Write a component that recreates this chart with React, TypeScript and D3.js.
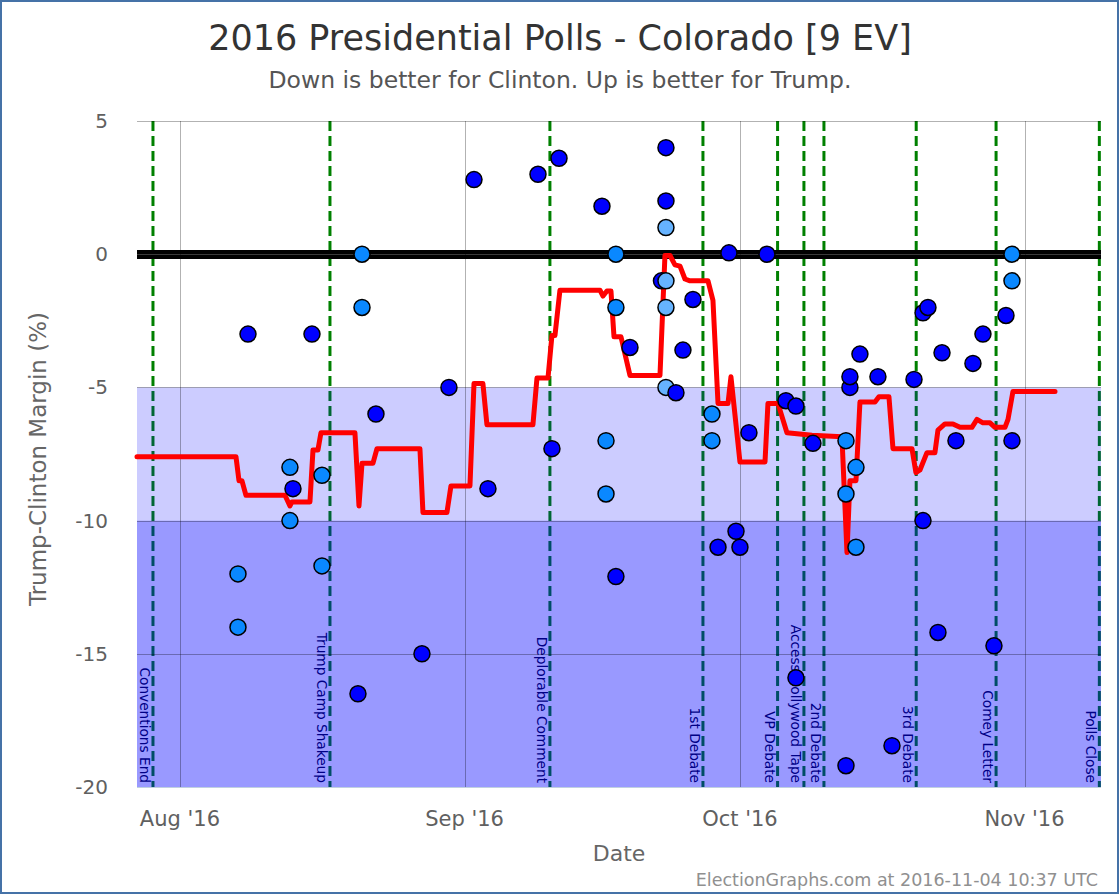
import React from 'react';
import * as d3 from 'd3';

const W = 1120;
const H = 896;
const BASE = Date.UTC(2016, 7, 1); // 2016-08-01 UTC
const DAY_MS = 864e5;
const toDate = (d: number) => new Date(BASE + d * DAY_MS);

// x extent of the plot, in days after 2016-08-01
const X_DOMAIN_DAYS = [-4.68, 100.33];
const Y_DOMAIN = [-20, 5];
const Y_TICKS = [5, 0, -5, -10, -15, -20];
const X_TICK_DAYS = [0, 31, 61, 92];
const X_TICK_LABELS = ["Aug '16", "Sep '16", "Oct '16", "Nov '16"];

// shaded margin bands (Clinton lead)
const BAND_FROM = [-5, -10];
const BAND_TO = [-10, -20];

const EVENT_NAMES = [
  'Conventions End', 'Trump Camp Shakeup', 'Deplorable Comment', '1st Debate', 'VP Debate',
  'Access Hollywood Tape', '2nd Debate', '3rd Debate', 'Comey Letter', 'Polls Close',
];
const EVENT_DAYS = [-2.94, 16.34, 40.3, 56.97, 65.1, 67.97, 70.15, 80.2, 88.9, 100.15];

// individual polls
const POLL_DAYS = [
  7.41, 6.32, 6.32, 11.98, 12.31, 11.98, 14.38, 15.47, 15.47, 19.83,
  19.83, 19.39, 21.35, 26.36, 29.3, 32.03, 33.55, 39.0, 40.52, 41.29,
  45.97, 46.41, 46.41, 47.49, 47.49, 47.49, 49.02, 52.94, 52.94, 52.94,
  52.45, 52.94, 52.94, 52.94, 54.03, 55.88, 54.79, 57.95, 57.95, 58.61,
  59.8, 60.57, 61.0, 61.98, 63.94, 66.01, 67.1, 67.1, 68.95, 72.55,
  72.55, 72.98, 72.98, 73.64, 73.64, 74.07, 72.55, 76.03, 77.56, 79.96,
  80.94, 81.48, 80.94, 83.01, 82.57, 84.53, 86.38, 87.47, 88.67, 89.98,
  90.63, 90.63, 90.63,
];
const POLL_MARGINS = [
  -3.0, -12.0, -14.0, -8.0, -8.8, -10.0, -3.0, -8.3, -11.7, 0,
  -2.0, -16.5, -6.0, -15.0, -5.0, 2.8, -8.8, 3.0, -7.3, 3.6,
  1.8, -7.0, -9.0, 0, -2.0, -12.1, -3.5, 4.0, 2.0, 1.0,
  -1.0, -1.0, -2.0, -5.0, -5.2, -1.7, -3.6, -6.0, -7.0, -11.0,
  0.05, -10.4, -11.0, -6.7, 0, -5.5, -5.7, -15.9, -7.1, -7.0,
  -9.0, -5.0, -4.6, -8.0, -11.0, -3.75, -19.2, -4.6, -18.45, -4.7,
  -2.2, -2.0, -10.0, -3.7, -14.2, -7.0, -4.1, -3.0, -14.7, -2.3,
  0, -1.0, -7.0,
];
// 0 = dark blue, 1 = medium blue, 2 = light blue
const POLL_KINDS = [
  0, 1, 1, 1, 0, 1, 0, 1, 1, 1,
  1, 0, 0, 0, 0, 0, 0, 0, 0, 0,
  0, 1, 1, 1, 1, 0, 0, 0, 0, 2,
  0, 2, 2, 2, 0, 0, 0, 1, 1, 0,
  0, 0, 0, 0, 0, 0, 0, 0, 0, 1,
  1, 0, 0, 1, 1, 0, 0, 0, 0, 0,
  0, 0, 0, 0, 0, 0, 0, 0, 0, 0,
  1, 1, 0,
];

// running average
const AVG_DAYS = [
  -4.68, 6.10, 6.43, 6.75, 7.19, 11.44, 11.98, 12.2, 14.16, 14.49,
  15.03, 15.36, 19.06, 19.5, 19.83, 21.02, 21.46, 26.14, 26.47, 29.08,
  29.52, 31.59, 32.03, 33.0, 33.44, 38.45, 38.89, 40.09, 40.52, 40.85,
  41.39, 45.75, 46.08, 46.51, 46.95, 47.28, 48.04, 49.02, 52.29, 52.83,
  53.38, 53.92, 54.47, 55.01, 55.56, 57.52, 58.06, 58.61, 59.7, 60.02,
  61.0, 63.73, 64.05, 65.14, 66.12, 68.85, 72.11, 72.66, 72.98, 73.64,
  74.07, 75.71, 76.14, 77.23, 77.67, 79.74, 80.17, 80.61, 81.37, 82.24,
  82.57, 83.33, 84.2, 84.97, 86.27, 86.82, 87.47, 88.24, 88.78, 89.87,
  90.2, 90.74, 91.5, 95.32,
];
const AVG_MARGINS = [
  -7.6, -7.6, -8.5, -8.5, -9.05, -9.05, -9.45, -9.3, -9.3, -7.35,
  -7.35, -6.7, -6.7, -9.45, -7.85, -7.85, -7.3, -7.3, -9.7, -9.7,
  -8.7, -8.7, -4.85, -4.85, -6.4, -6.4, -4.65, -4.65, -3.05, -3.05,
  -1.35, -1.35, -1.57, -1.38, -1.38, -3.1, -3.1, -4.55, -4.55, -0.05,
  -0.05, -0.4, -0.45, -0.93, -1.0, -1.0, -1.73, -5.6, -5.6, -4.6,
  -7.8, -7.8, -5.6, -5.6, -6.7, -6.8, -6.85, -11.2, -8.5, -8.5,
  -5.55, -5.55, -5.35, -5.35, -7.3, -7.3, -8.2, -8.1, -7.45, -7.45,
  -6.6, -6.37, -6.37, -6.5, -6.5, -6.2, -6.33, -6.33, -6.5, -6.5,
  -6.2, -5.15, -5.15, -5.15,
];

const TITLE = '2016 Presidential Polls - Colorado [9 EV]';
const SUBTITLE = 'Down is better for Clinton. Up is better for Trump.';
const Y_TITLE = 'Trump-Clinton Margin (%)';
const X_TITLE = 'Date';
const FOOTER = 'ElectionGraphs.com at 2016-11-04 10:37 UTC';

const PLOT = { left: 137, right: 1101, top: 121, bottom: 787 };
const FONT = "'DejaVu Sans', sans-serif";
const KIND_COLORS = ['#0000ff', '#0a88ff', '#66b3ff'];
const BAND_OPACITY = [0.2, 0.4];

export default function App() {
  const x = d3.scaleUtc()
    .domain([toDate(X_DOMAIN_DAYS[0]), toDate(X_DOMAIN_DAYS[1])])
    .range([PLOT.left, PLOT.right]);
  const y = d3.scaleLinear().domain(Y_DOMAIN).range([PLOT.bottom, PLOT.top]);

  const avgData = AVG_DAYS.map((d, i) => [toDate(d), AVG_MARGINS[i]] as [Date, number]);
  const line = d3.line<[Date, number]>().x((d) => x(d[0])).y((d) => y(d[1]));

  const polls = POLL_DAYS.map((d, i) => ({ date: toDate(d), m: POLL_MARGINS[i], k: POLL_KINDS[i] }));
  const y0 = Math.round(y(0)) + 0.5;

  return (
    <svg width={W} height={H} style={{ position: 'absolute', left: 0, top: 0, display: 'block' }}
      fontFamily={FONT}>
      <rect x={0} y={0} width={W} height={H} fill="#fff" />

      {/* event lines */}
      {EVENT_DAYS.map((d, i) => (
        <line key={'ev' + i} x1={x(toDate(d))} x2={x(toDate(d))} y1={PLOT.top} y2={PLOT.bottom}
          stroke="#008000" strokeWidth={3} strokeDasharray="10,5" />
      ))}
      {EVENT_DAYS.map((d, i) => (
        <text key={'evt' + i} transform={`translate(${x(toDate(d)) - 13},${PLOT.bottom - 4}) rotate(90)`}
          textAnchor="end" fontSize={13.7} fill="#000033">{EVENT_NAMES[i]}</text>
      ))}

      {/* bands */}
      {BAND_FROM.map((b, i) => (
        <rect key={'band' + i} x={PLOT.left} width={PLOT.right - PLOT.left}
          y={y(b)} height={y(BAND_TO[i]) - y(b)} fill="#0000ff" fillOpacity={BAND_OPACITY[i]} />
      ))}

      {/* zero line */}
      <line x1={PLOT.left} x2={PLOT.right} y1={y0} y2={y0} stroke="#000" strokeWidth={9} />

      {/* grid */}
      {Y_TICKS.map((t) => (
        <line key={'gy' + t} x1={PLOT.left} x2={PLOT.right} y1={Math.round(y(t)) + 0.5} y2={Math.round(y(t)) + 0.5}
          stroke={t === 0 ? '#3a3a3a' : '#000'} strokeOpacity={t === 0 ? 1 : 0.3} strokeWidth={1} />
      ))}
      {X_TICK_DAYS.map((d) => (
        <line key={'gx' + d} x1={Math.round(x(toDate(d))) + 0.5} x2={Math.round(x(toDate(d))) + 0.5}
          y1={PLOT.top} y2={PLOT.bottom} stroke="#000" strokeOpacity={0.3} strokeWidth={1} />
      ))}
      <line x1={PLOT.left} x2={PLOT.right} y1={PLOT.bottom + 0.5} y2={PLOT.bottom + 0.5} stroke="#c0d0e0" strokeWidth={1} />

      {/* average line */}
      <path d={line(avgData) || ''} fill="none" stroke="#ff0000" strokeWidth={5} strokeLinejoin="round" strokeLinecap="round" />

      {/* polls */}
      {polls.map((p, i) => (
        <circle key={'p' + i} cx={x(p.date)} cy={y(p.m)} r={8} fill={KIND_COLORS[p.k]} stroke="#000" strokeWidth={1.5} />
      ))}

      {/* axis labels */}
      {Y_TICKS.map((t) => (
        <text key={'ty' + t} x={108} y={y(t) + 7} textAnchor="end" fontSize={20} fill="#606060">{String(t)}</text>
      ))}
      {X_TICK_DAYS.map((d, i) => (
        <text key={'tx' + d} x={x(toDate(d))} y={826} textAnchor="middle" fontSize={21} fill="#606060">{X_TICK_LABELS[i]}</text>
      ))}

      <text x={(PLOT.left + PLOT.right) / 2} y={861} textAnchor="middle" fontSize={22} fill="#666">{X_TITLE}</text>
      <text transform={`translate(46,${(PLOT.top + PLOT.bottom) / 2 + 5}) rotate(-90)`} textAnchor="middle" fontSize={23} fill="#666">{Y_TITLE}</text>

      <text x={560} y={50} textAnchor="middle" fontSize={35} fill="#333">{TITLE}</text>
      <text x={560} y={88} textAnchor="middle" fontSize={23.5} fill="#555">{SUBTITLE}</text>
      <text x={1098} y={886} textAnchor="end" fontSize={17.5} fill="#909090">{FOOTER}</text>

      <rect x={1} y={1} width={1117} height={892} fill="none" stroke="#4572a7" strokeWidth={2} />
    </svg>
  );
}
